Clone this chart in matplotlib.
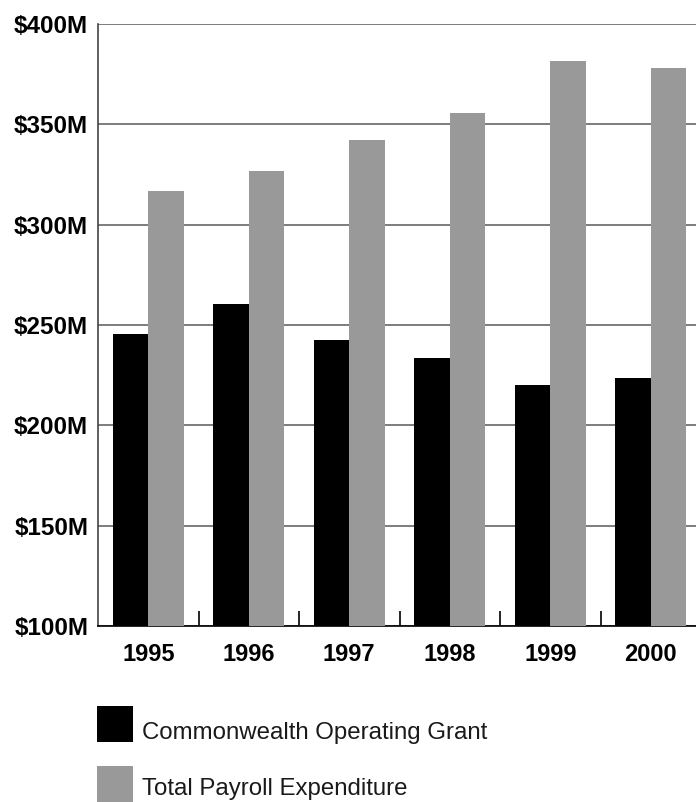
import matplotlib
matplotlib.use("Agg")
import matplotlib.pyplot as plt
from matplotlib.patches import Rectangle
import numpy as np

years = ["1995", "1996", "1997", "1998", "1999", "2000"]
operating_grant = [245.5, 260.3, 242.5, 233.6, 220.1, 223.4]
payroll_expenditure = [316.9, 326.7, 342.2, 355.6, 381.6, 378.1]
y_ticks = [100, 150, 200, 250, 300, 350, 400]
series_names = ["Commonwealth Operating Grant", "Total Payroll Expenditure"]
series_colors = ["black", "#999999"]

plt.rcParams['font.family'] = ['Liberation Sans', 'DejaVu Sans']

W, H = 696, 802
fig = plt.figure(figsize=(W / 100, H / 100), dpi=100)
ax = fig.add_axes([98 / W, 1 - 626 / H, 603 / W, 602 / H])

x = np.arange(len(years))
w = 0.353
ax.bar(x - w / 2, [v - 100 for v in operating_grant], w, bottom=100,
       color=series_colors[0], zorder=3)
ax.bar(x + w / 2, [v - 100 for v in payroll_expenditure], w, bottom=100,
       color=series_colors[1], zorder=3)

ax.set_xlim(-0.5, 5.5)
ax.set_ylim(100, 400)
ax.set_yticks(y_ticks)
ax.set_yticklabels([f"${v}M" for v in y_ticks], fontsize=17.5, fontweight="bold")
ax.set_xticks(x)
ax.set_xticklabels(years, fontsize=17, fontweight="bold")
ax.set_xticks(x[:-1] + 0.5, minor=True)
ax.tick_params(axis="x", which="major", length=0, pad=12)
ax.tick_params(axis="x", which="minor", direction="in", length=10.5, width=1.2, color="black")
ax.tick_params(axis="y", length=0, pad=7)

ax.yaxis.grid(True, color="#666666", linewidth=1.2, zorder=0)
ax.set_axisbelow(True)
for s in ["top", "right"]:
    ax.spines[s].set_visible(False)
ax.spines["left"].set_color("#444444")
ax.spines["left"].set_linewidth(1.2)
ax.spines["bottom"].set_color("black")
ax.spines["bottom"].set_linewidth(1.2)

# legend drawn by hand: 36px squares, label baseline near square bottom
baselines = [739, 795.5]
for i, (name, col) in enumerate(zip(series_names, series_colors)):
    top = 706 + 60 * i
    fig.add_artist(Rectangle((97 / W, 1 - (top + 36) / H), 36 / W, 36 / H,
                             transform=fig.transFigure, color=col, lw=0))
    fig.text(142 / W, 1 - baselines[i] / H, name, fontsize=17.3, va="baseline",
             ha="left", color="#1a1a1a")

fig.savefig("out.png", dpi=100)
